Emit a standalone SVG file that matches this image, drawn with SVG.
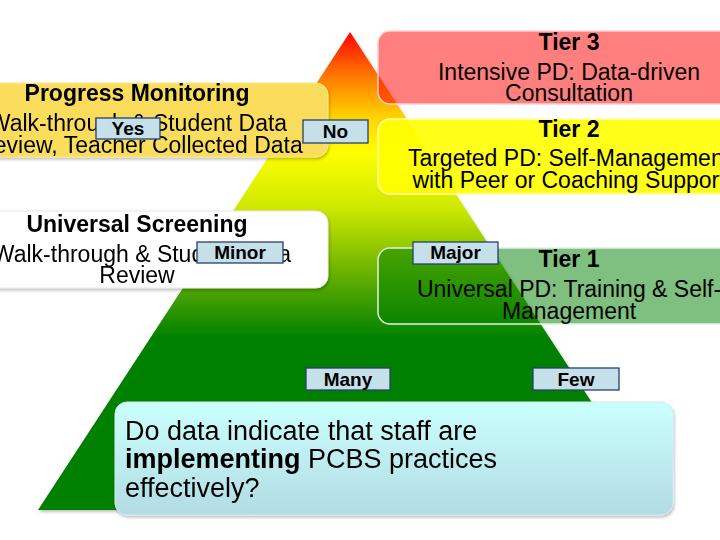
<svg xmlns="http://www.w3.org/2000/svg" width="720" height="540" viewBox="0 0 720 540">
<style>
text{font-family:"Liberation Sans",Arial,sans-serif;fill:#000}
.h{font-size:23px;font-weight:bold;text-anchor:middle}
.b{font-size:23px;text-anchor:middle}
.lab rect{fill:#c6e0ea;stroke:#24406e;stroke-width:1.3}
.lab text{font-size:19px;font-weight:bold;text-anchor:middle}
.q{font-size:27px}
</style>
<defs>
<linearGradient id="pyr" gradientUnits="userSpaceOnUse" x1="0" y1="32" x2="0" y2="510">
<stop offset="0" stop-color="#ff0000"/>
<stop offset="0.08" stop-color="#ff6a00"/>
<stop offset="0.17" stop-color="#ffcc00"/>
<stop offset="0.25" stop-color="#ffff00"/>
<stop offset="0.37" stop-color="#cce800"/>
<stop offset="0.5" stop-color="#6cb400"/>
<stop offset="0.64" stop-color="#008000"/>
<stop offset="1" stop-color="#008000"/>
</linearGradient>
<linearGradient id="qg" x1="0" y1="0" x2="0" y2="1">
<stop offset="0" stop-color="#cbffff"/>
<stop offset="1" stop-color="#b2dce2"/>
</linearGradient>
<filter id="sh" x="-10%" y="-10%" width="120%" height="130%">
<feDropShadow dx="1" dy="2" stdDeviation="1.5" flood-color="#000" flood-opacity="0.25"/>
</filter>
</defs>
<rect width="720" height="540" fill="#fff"/>
<g id="pyramid">
<polygon points="350,32 38,510 662,510" fill="url(#pyr)" filter="url(#sh)"/>
</g>
<g id="tier3">
<rect x="378" y="31" width="360" height="73" rx="12" fill="#ff0000" fill-opacity="0.5" stroke="#ffd0d0" stroke-width="1.5"/>
<text class="h" x="569" y="50">Tier 3</text>
<text class="b" x="569" y="80">Intensive PD: Data-driven</text>
<text class="b" x="569" y="101">Consultation</text>
</g>
<g id="tier2">
<rect x="378" y="119" width="360" height="75" rx="12" fill="#ffff00" fill-opacity="0.9" stroke="#ffffb0" stroke-width="1.5"/>
<text class="h" x="569" y="137">Tier 2</text>
<text class="b" x="569" y="166">Targeted PD: Self-Management</text>
<text class="b" x="569" y="188">with Peer or Coaching Support</text>
</g>
<g id="tier1">
<rect x="378" y="248" width="360" height="76" rx="12" fill="#008000" fill-opacity="0.5" stroke="#e4f2e4" stroke-width="1.5"/>
<text class="h" x="569" y="267">Tier 1</text>
<text class="b" x="569" y="297">Universal PD: Training &amp; Self-</text>
<text class="b" x="569" y="319">Management</text>
</g>
<g id="progress-monitoring" filter="url(#sh)">
<rect x="-20" y="83" width="348" height="74" rx="12" fill="#fadd5c" stroke="#fbe88e" stroke-width="1"/>
<text class="h" x="137" y="101">Progress Monitoring</text>
<text class="b" x="138" y="131">Walk-through &amp; Student Data</text>
<text class="b" x="140" y="153">Review, Teacher Collected Data</text>
</g>
<g id="universal-screening" filter="url(#sh)">
<rect x="-20" y="211" width="348" height="77" rx="12" fill="#ffffff" stroke="#e6e6e6" stroke-width="1"/>
<text class="h" x="137" y="232">Universal Screening</text>
<text class="b" x="142" y="262">Walk-through &amp; Student Data</text>
<text class="b" x="137" y="283">Review</text>
</g>
<g id="question" filter="url(#sh)">
<rect x="115" y="402" width="558" height="113" rx="12" fill="url(#qg)" stroke="#d2ecef" stroke-width="1"/>
<text class="q" x="125" y="440">Do data indicate that staff are</text>
<text class="q" x="125" y="468"><tspan font-weight="bold">implementing</tspan> PCBS practices</text>
<text class="q" x="125" y="497">effectively?</text>
</g>
<g id="connectors"></g>
<g id="label-yes" class="lab"><rect x="96" y="118" width="64" height="21"/><text x="128" y="135">Yes</text></g>
<g id="label-no" class="lab"><rect x="303" y="120" width="65" height="23"/><text x="335.5" y="138">No</text></g>
<g id="label-minor" class="lab"><rect x="197" y="242" width="86" height="21"/><text x="240" y="259">Minor</text></g>
<g id="label-major" class="lab"><rect x="413" y="242" width="85" height="22"/><text x="455.5" y="259">Major</text></g>
<g id="label-many" class="lab"><rect x="306" y="368" width="84" height="22"/><text x="348" y="386">Many</text></g>
<g id="label-few" class="lab"><rect x="533" y="368" width="86" height="22"/><text x="576" y="386">Few</text></g>
</svg>
